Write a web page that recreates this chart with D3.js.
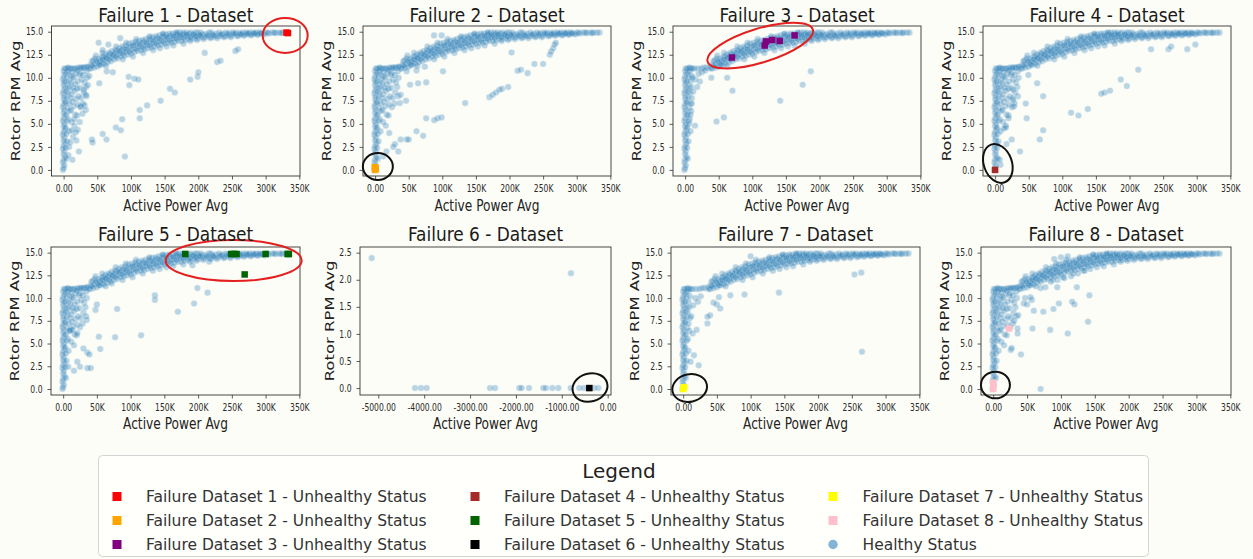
<!DOCTYPE html>
<html>
<head>
<meta charset="utf-8">
<script src="https://cdn.jsdelivr.net/npm/d3@7"></script>
<style>
  html, body { margin: 0; padding: 0; background: #fdfdf7; }
  svg { display: block; font-family: "DejaVu Sans", sans-serif; }
</style>
</head>
<body>
<script>
// ---------------- data (x in thousands for the power panels) ----------------

// main power curve shared by the turbine datasets: low-power vertical strip, knee at 11 rpm, rising band
const sharedCurve = [
  [-1,0.0],[0,0.2],[1,0.5],[-1,0.8],[0,1.1],[2,1.4],[0,1.7],[1,2.0],[-1,2.3],[0,2.6],[2,2.9],[0,3.2],[1,3.5],
  [-1,3.8],[0,4.1],[2,4.4],[0,4.7],[1,5.0],[-1,5.3],[0,5.6],[2,5.9],[0,6.2],[1,6.5],[-1,6.8],[0,7.1],[2,7.4],
  [0,7.7],[1,8.0],[-1,8.3],[0,8.6],[2,8.9],[0,9.2],[1,9.5],[-1,9.8],[0,10.1],[2,10.4],[0,10.7],[1,11.0],
  [4,1.2],[3,2.4],[5,3.1],[4,3.9],[3,4.6],[5,5.3],[4,6.0],[6,6.7],[3,7.3],[5,7.9],[4,8.5],[6,9.0],[3,9.6],
  [5,10.1],[4,10.6],[6,11.0],
  [8,4.2],[7,5.5],[9,6.4],[8,7.2],[10,7.8],[7,8.4],[9,9.0],[8,9.6],[10,10.2],[7,10.7],[9,11.0],
  [3,11.0],[7,11.1],[11,11.0],[14,11.0],[19,11.0],[24,11.0],[28,11.1],[32,11.1],[37,11.2],[38,11.0],
  [40,11.0],[41,11.4],[42,11.8],[45,11.1],[46,11.5],[44,11.9],[47,12.1],[50,11.2],[51,11.6],[52,12.0],
  [55,11.4],[54,11.8],[56,12.2],[57,11.6],[60,11.5],[61,11.9],[59,12.3],[62,12.5],[65,11.7],[64,12.1],
  [66,12.4],[67,12.7],[70,11.8],[71,12.2],[69,12.6],[72,12.9],[75,12.0],[74,12.4],[76,12.7],[77,13.0],
  [80,12.1],[81,12.5],[79,12.9],[82,13.2],[85,12.3],[84,12.7],[86,13.0],[87,13.4],[90,12.4],[91,12.8],
  [89,13.2],[92,13.5],[95,12.5],[94,12.9],[96,13.3],[97,13.7],[100,12.6],[101,13.0],[99,13.4],[102,13.8],
  [105,12.8],[104,13.2],[106,13.6],[107,13.9],[110,12.9],[111,13.3],[109,13.7],[112,14.0],[115,13.0],
  [114,13.4],[116,13.8],[117,14.1],[120,13.1],[121,13.5],[119,13.9],[122,14.2],[125,13.2],[124,13.6],
  [126,14.0],[127,14.3],[130,13.3],[131,13.7],[129,14.1],[132,14.4],[135,13.4],[134,13.8],[136,14.2],
  [137,14.5],[140,13.5],[141,13.9],[139,14.3],[142,14.6],[145,13.6],[144,14.0],[146,14.4],[147,14.7],
  [150,13.7],[151,14.1],[149,14.5],[152,14.7],[155,13.8],[154,14.2],[156,14.5],[157,14.8],[160,13.8],
  [161,14.2],[159,14.6],[162,14.8],[165,13.9],[164,14.3],[166,14.6],[167,14.85],[170,14.0],[171,14.4],
  [169,14.7],[172,14.9],[175,14.0],[174,14.4],[176,14.7],[177,14.9],[180,14.1],[181,14.5],[179,14.75],
  [182,14.9],[185,14.2],[184,14.5],[186,14.8],[190,14.2],[191,14.6],[189,14.9],[195,14.3],[194,14.6],
  [196,14.9],[200,14.3],[201,14.65],[199,14.9],[205,14.4],[206,14.7],[204,14.9],[210,14.4],[211,14.75],
  [215,14.5],[216,14.9],[220,14.4],[221,14.7],[219,14.9],[225,14.5],[226,14.8],[230,14.5],[231,14.9],
  [235,14.6],[236,14.8],[240,14.5],[241,14.9],[245,14.6],[246,14.85],[250,14.6],[251,14.9],[255,14.7],
  [256,14.9],[260,14.6],[261,14.85],[265,14.7],[266,14.9],[270,14.7],[271,14.9],[275,14.75],[276,14.9],
  [280,14.7],[281,14.9],[285,14.8],[286,14.9],[290,14.75],[291,14.9],[295,14.8],[300,14.9],[305,14.8],
  [310,14.9],[315,14.85],[320,14.9],[325,14.9],[330,14.9],[334,14.9],
  [48,12.4],[58,12.7],[63,11.3],[78,13.4],[88,12.0],[93,13.8],[103,12.3],[108,14.2],[118,12.7],[128,14.5],
  [133,13.0],[143,13.2],[148,14.8],[153,13.4],[163,13.5],[168,14.9],[178,13.7],[188,14.0],[198,14.1],
  [208,14.2],[218,14.3],[228,14.3],[238,14.4],[248,14.4],[258,14.5],[268,14.55],[278,14.6],[288,14.65],
  [298,14.7],
  [43,11.3],[49,11.8],[53,11.4],[58,12.0],[63,12.2],[68,12.0],[73,12.5],[78,12.3],[83,12.9],[88,12.6],
  [93,13.1],[98,12.8],[103,13.5],[108,13.1],[113,13.6],[118,13.3],[123,13.8],[128,13.5],[133,14.0],
  [138,13.7],[143,14.2],[148,13.9],[153,14.4],[158,14.0],[163,14.5],[168,14.2],[173,14.6],[178,14.3],
  [183,14.7],[188,14.4],[193,14.75],[197,14.5],[203,14.6],[213,14.6],[223,14.6],[233,14.7],[243,14.75],
  [253,14.8],[263,14.75],[273,14.8],[283,14.8],[293,14.85],[303,14.9],[313,14.9],[323,14.85]
];

// scattered low-power region under the knee
const sharedKnee = [
  [12,5.2],[11,6.5],[13,7.4],[12,8.2],[14,8.9],[11,9.5],[13,10.1],[12,10.6],
  [16,4.8],[17,6.0],[15,6.9],[18,7.7],[16,8.6],[17,9.3],[15,10.0],[18,10.5],[16,11.0],
  [20,5.9],[21,7.1],[22,8.0],[20,8.8],[21,9.6],[23,10.3],[20,10.8],[22,11.1],
  [25,6.8],[26,7.8],[24,8.9],[27,9.8],[25,10.5],[26,11.1],
  [29,7.2],[30,8.4],[31,9.5],[29,10.3],[30,11.1],
  [34,8.0],[33,9.0],[35,10.0],[34,10.7],[35,11.2]
];

const healthy1 = [
  [91,1.45],[42,3.3],[43,2.97],[58,3.9],[63.6,3.3],[77.6,4.6],[85,4.3],[87,5.5],[113,6.5],[113,5.6],
  [124,7.0],[144,7.5],[158,8.8],[165,8.4],[188,9.8],[199,10.1],[200,10.6],[228,11.7],[233,11.85],
  [255,12.9],[259,13.1],[209.5,12.7],[64,10.7],[73,10.6],[96.6,10.1],[97.6,9.2],[105,9.9],[111,9.8],
  [53,9.4],[30,8.7],[25,6.9],[22.7,2.0],[21,4.35],[31,7.0],[33,8.15],[13,1.1],[7,1.6],[52,13.8],
  [58,13.0],[66.5,13.6],[84,14.3],[10,3.0],[14,3.6],[18,4.1],[8,2.5],[12,4.3],[16,5.5],[24,5.2],
  [28,6.1],[36,9.2],[38,10.2],[33,6.5],[19,3.2]
];
const healthy2 = [
  [134,7.25],[170,7.9],[175,8.15],[180,8.4],[185,8.7],[189,8.8],[198,9.0],[212,10.76],[217,10.87],
  [227,10.5],[237,11.5],[250,11.5],[260,12.5],[262,12.86],[265,13.2],[267,13.6],[269,13.8],[203,12.75],
  [76,5.6],[88,5.4],[93,5.6],[99,5.7],[71.5,3.7],[61.6,4.2],[47,3.3],[50,3.3],[38,3.3],[34.5,2.0],
  [29.6,2.8],[27,2.5],[12,1.45],[17,2.0],[21,4.0],[37,7.25],[38,8.15],[46,7.5],[52,9.25],[64,9.4],
  [76,9.5],[47,10.7],[61.6,10.8],[87.7,14.6],[99,14.6],[101,10.7],[74,11.2]
];
const healthy3 = [
  [187,10.7],[175,9.24],[141.5,7.5],[70.5,8.6],[62.6,10.0],[39,10.0],[57.7,5.7],[46.8,5.25],[22,9.6],
  [14.8,4.8],[10,7.2],[12,8.5],[8,6.0],[15,9.8],[20,10.4],[18,9.0],[6,5.0],[25,10.6],[30,10.8],[11,10.0]
];
const healthy4 = [
  [298,13.6],[286,13.1],[258,13.1],[262,13.4],[232,13.1],[213,10.87],[187,9.8],[196,9.1],[171,8.6],
  [163,8.4],[158,8.26],[138,6.6],[124,5.9],[113,6.2],[62.6,9.4],[71.5,8.0],[71.5,4.3],[66.5,3.3],
  [47,5.6],[45.6,7.2],[49.5,10.3],[37,2.0],[24.7,3.3],[17,2.8],[27,7.6],[28,6.9],[27,8.7],[7,1.1],
  [8,0.55],[13,4.5],[16,4.6],[20,5.6]
];
const healthy5 = [
  [191.7,13.6],[216.6,14.0],[199,11.1],[214,10.6],[194,9.4],[170,8.5],[136,10.3],[136,9.8],[115.5,5.9],
  [77,5.7],[55,4.4],[53,5.75],[80,8.8],[50,9.3],[48,8.7],[72,11.6],[35,7.6],[36,4.0],[39,3.8],[36,2.3],
  [41,2.3],[30,4.45],[21,3.0],[25,2.45],[16,2.0],[7.5,2.45],[21,6.15],[10,6.4],[14,6.5]
];
// raw power units (not thousands)
const healthy6 = [
  [-5144,2.4],[-800,2.12],[-4200,0],[-4069,0],[-3945,0],[-2565,0],[-2456,0],[-1927,0],[-1875,0],
  [-1715,0],[-1403,0],[-1345,0],[-1207,0],[-1076,0],[-806,0],[-619,0],[-516,0],[-422,0],[-298,0],[-204,0]
];
const healthy7 = [
  [265,4.1],[254,12.6],[264,12.8],[142,10.6],[91,10.4],[70,10.3],[55,8.85],[50,9.3],[45,9.5],[53,10.1],
  [40,8.1],[36,7.2],[36,7.95],[23,2.6],[16,3.7],[11,3.0],[14,6.1],[20,6.5],[12,8.0],[15,9.2],[18,10.0],
  [22,9.6],[26,10.2],[100,14.6]
];
const healthy8 = [
  [70,0],[41,3.8],[26,4.3],[27.4,4.5],[36,6.1],[36,6.65],[58,6.65],[84,6.5],[110,6.1],[140,7.4],
  [142,10.3],[123.5,11.2],[120,9.3],[116.5,9.6],[97,9.4],[89,8.8],[74,8.5],[94.6,11.2],[77,11.2],
  [70,11.1],[60,8.6],[57,9.8],[55,10.1],[47,10.0],[45,9.4],[50,9.3],[37,8.1],[31,7.5],
  [85,11.8],[95,12.0],[105,12.2],[115,12.4],[125,12.7],[135,13.0],[90,14.3],[100,14.5],[110,14.6]
];

// unhealthy-status samples per dataset
const fail1 = [[331,14.9],[333,14.85]];
const fail2 = [[0,0],[1,0.15],[-0.5,0.3]];
const fail3 = [[69.7,12.2],[118.5,13.5],[120.4,13.95],[129.7,14.1],[140.7,14.0],[162.9,14.6]];
const fail4 = [[0,0]];
const fail5 = [[181,14.85],[249,14.85],[253,14.85],[257,14.85],[269,12.6],[300,14.85],[332.6,14.85],[334.5,14.85]];
const fail6 = [[-400,0]];
const fail7 = [[0,0],[1.5,0.2]];
const fail8 = [[23.4,6.66],[0,0],[0,0.35],[0,0.7]];

const failColors = ["#ff0000", "#ffa500", "#800080", "#a52a2a", "#006400", "#000000", "#ffff00", "#ffc0cb"];
const titles = ["Failure 1 - Dataset", "Failure 2 - Dataset", "Failure 3 - Dataset", "Failure 4 - Dataset",
                "Failure 5 - Dataset", "Failure 6 - Dataset", "Failure 7 - Dataset", "Failure 8 - Dataset"];

const powerTicks = [0, 50, 100, 150, 200, 250, 300, 350];
const rpmTicks = [0, 2.5, 5, 7.5, 10, 12.5, 15];
const smallPowerTicks = [-5000, -4000, -3000, -2000, -1000, 0];
const smallRpmTicks = [0, 0.5, 1, 1.5, 2, 2.5];

// highlight rings: centre in data units, radii in pixels
const rings = [
  {cx: 329, cy: 14.6, rx: 22.5, ry: 17.5, rot: 0, color: "#e41f1f"},
  {cx: 4.1, cy: 0.37, rx: 15, ry: 13.5, rot: 0, color: "#111"},
  {cx: 111.8, cy: 13.5, rx: 55, ry: 17, rot: -17, color: "#e41f1f"},
  {cx: 4.1, cy: 0.7, rx: 14, ry: 20, rot: -20, color: "#111"},
  {cx: 252.7, cy: 14.13, rx: 68, ry: 20.5, rot: 0, color: "#e41f1f"},
  {cx: -386, cy: 0.01, rx: 17.7, ry: 14, rot: -15, color: "#111"},
  {cx: 9.7, cy: 0.11, rx: 17.5, ry: 13.7, rot: -12, color: "#111"},
  {cx: 3.3, cy: 0.44, rx: 14.5, ry: 13.3, rot: 0, color: "#111"}
];

const legendLabels = [
  "Failure Dataset 1 - Unhealthy Status", "Failure Dataset 2 - Unhealthy Status", "Failure Dataset 3 - Unhealthy Status",
  "Failure Dataset 4 - Unhealthy Status", "Failure Dataset 5 - Unhealthy Status", "Failure Dataset 6 - Unhealthy Status",
  "Failure Dataset 7 - Unhealthy Status", "Failure Dataset 8 - Unhealthy Status", "Healthy Status"
];

// ---------------- layout ----------------
const W = 1253, H = 559;
const HEALTHY = "#1f77b4";
const K_TICK = 0.78, K_TITLE = 0.87, K_LABEL = 0.74, K_YLAB = 0.78;

const kFmt = v => v === 0 ? "0.00" : v + "K";
const fixed1 = v => v.toFixed(1);
const fixed2 = v => v.toFixed(2);

const bigX = [-18, 351], bigY = [-0.66, 15.62];
const panels = [
  {left: 51.5, top: 26, w: 248.5, h: 150, healthy: [sharedCurve, sharedKnee, healthy1], fail: fail1},
  {left: 363, top: 26, w: 248, h: 150, healthy: [sharedCurve, sharedKnee, healthy2], fail: fail2},
  {left: 673, top: 26, w: 248, h: 150, healthy: [sharedCurve, healthy3], fail: fail3},
  {left: 983, top: 26, w: 248, h: 150, healthy: [sharedCurve, sharedKnee, healthy4], fail: fail4},
  {left: 51, top: 247, w: 249, h: 148, healthy: [sharedCurve, sharedKnee, healthy5], fail: fail5},
  {left: 360, top: 247, w: 251, h: 148, healthy: [healthy6], fail: fail6, small: true},
  {left: 671, top: 247, w: 249, h: 148, healthy: [sharedCurve, healthy7], fail: fail7},
  {left: 981, top: 247, w: 250, h: 148, healthy: [sharedCurve, sharedKnee, healthy8], fail: fail8}
];

const svg = d3.select("body").append("svg").attr("width", W).attr("height", H);
svg.append("rect").attr("width", W).attr("height", H).attr("fill", "#fdfdf7");

panels.forEach((p, i) => {
  const g = svg.append("g").attr("transform", `translate(${p.left},${p.top})`);
  const x = d3.scaleLinear().domain(p.small ? [-5399, 72] : bigX).range([0, p.w]);
  const y = d3.scaleLinear().domain(p.small ? [-0.128, 2.605] : bigY).range([p.h, 0]);

  // healthy points
  const pts = p.healthy.flat();
  g.append("g").selectAll("circle").data(pts).join("circle")
    .attr("cx", d => x(d[0])).attr("cy", d => y(d[1])).attr("r", 3.3)
    .attr("fill", HEALTHY).attr("stroke", "#fff").attr("stroke-width", 0.45)
    .attr("opacity", 0.3);

  // unhealthy samples
  const s = 6.5;
  g.append("g").selectAll("rect").data(p.fail).join("rect")
    .attr("x", d => x(d[0]) - s / 2).attr("y", d => y(d[1]) - s / 2)
    .attr("width", s).attr("height", s).attr("fill", failColors[i]);

  // axes
  const xa = g.append("g").attr("transform", `translate(0,${p.h})`)
    .call(d3.axisBottom(x).tickValues(p.small ? smallPowerTicks : powerTicks)
      .tickFormat(p.small ? fixed2 : kFmt).tickSize(3.5).tickPadding(6).tickSizeOuter(0));
  const ya = g.append("g")
    .call(d3.axisLeft(y).tickValues(p.small ? smallRpmTicks : rpmTicks)
      .tickFormat(fixed1).tickSize(3.5).tickPadding(5).tickSizeOuter(0));
  [xa, ya].forEach(a => {
    a.select(".domain").remove();
    a.attr("font-family", "DejaVu Sans").attr("font-size", 9.8);
    a.selectAll(".tick line").attr("stroke", "#333").attr("stroke-width", 0.8);
    a.selectAll(".tick text").attr("fill", "#2a2a2a").attr("transform", `scale(${K_TICK},1)`);
  });
  ya.selectAll(".tick text").attr("x", -8.5 / K_TICK);

  // frame
  g.append("rect").attr("width", p.w).attr("height", p.h)
    .attr("fill", "none").attr("stroke", "#333").attr("stroke-width", 0.9);

  // highlight ring
  const r = rings[i];
  g.append("ellipse")
    .attr("transform", `translate(${x(r.cx)},${y(r.cy)}) rotate(${r.rot})`)
    .attr("rx", r.rx).attr("ry", r.ry)
    .attr("fill", "none").attr("stroke", r.color).attr("stroke-width", 2);

  // titles and axis labels
  g.append("text").text(titles[i])
    .attr("transform", `translate(${p.w / 2},${p.top < 100 ? -4.5 : -6.5}) scale(${K_TITLE},1)`)
    .attr("text-anchor", "middle").attr("font-size", 19.5).attr("fill", "#1a1a1a");
  g.append("text").text("Active Power Avg")
    .attr("transform", `translate(${p.w / 2},${p.h + (p.top < 100 ? 34.5 : 34)}) scale(${K_LABEL},1)`)
    .attr("text-anchor", "middle").attr("font-size", 16.5).attr("fill", "#222");
  g.append("text").text("Rotor RPM Avg")
    .attr("transform", `translate(${p.small ? -26.5 : -32},${p.h / 2}) scale(${K_YLAB},1) rotate(-90)`)
    .attr("text-anchor", "middle").attr("font-size", 16.5).attr("fill", "#222");
});

// ---------------- legend ----------------
const lg = svg.append("g");
lg.append("rect").attr("x", 98.5).attr("y", 455.5).attr("width", 1050).attr("height", 101)
  .attr("rx", 4).attr("fill", "#fffffc").attr("stroke", "#d4d4d4");
lg.append("text").text("Legend").attr("x", 619).attr("y", 478)
  .attr("text-anchor", "middle").attr("font-size", 20).attr("fill", "#222");

const colMarker = [117, 475, 833], colText = [146, 504, 862.5], rowY = [496.5, 520.5, 544.5];
legendLabels.forEach((label, k) => {
  const c = Math.floor(k / 3), rr = k % 3;
  const mx = colMarker[c], my = rowY[rr];
  if (k < 8) {
    lg.append("rect").attr("x", mx - 4.5).attr("y", my - 4.5).attr("width", 9).attr("height", 9)
      .attr("fill", failColors[k]);
  } else {
    lg.append("circle").attr("cx", mx).attr("cy", my).attr("r", 4.7)
      .attr("fill", HEALTHY).attr("opacity", 0.55);
  }
  lg.append("text").text(label).attr("x", colText[c]).attr("y", my).attr("dy", "0.36em")
    .attr("font-size", 15.5).attr("fill", "#333");
});
</script>
</body>
</html>
